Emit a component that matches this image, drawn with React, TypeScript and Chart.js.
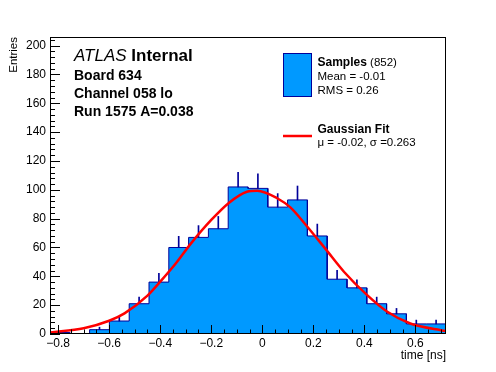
import { useEffect, useRef } from 'react';
import { Chart, registerables } from 'chart.js';

Chart.register(...registerables);

// ---- Data ----
const BIN_EDGES = [
  -0.832, -0.7544, -0.6768, -0.5992, -0.5216, -0.444, -0.3664, -0.2888, -0.2112, -0.1336,
  -0.056, 0.0216, 0.0992, 0.1768, 0.2544, 0.332, 0.4096, 0.4872, 0.5648, 0.6424, 0.72,
];
const COUNTS = [1, 0, 3, 9, 21, 36, 60, 67, 73, 102, 101, 88, 93, 68, 38, 32, 21, 14, 7, 7];

const FIT_X = [
  -0.832, -0.7, -0.6, -0.54, -0.45, -0.4, -0.34, -0.28, -0.2, -0.13, -0.06, -0.02, 0.06, 0.11,
  0.17, 0.25, 0.32, 0.41, 0.49, 0.58, 0.72,
];
const FIT_Y = [
  1.1, 4.0, 9.2, 14.3, 26.6, 36.3, 48.7, 62.7, 79.1, 91.1, 98.7, 99.4, 94.0, 87.8, 75.8, 58.5,
  43.2, 27.1, 15.4, 7.3, 2.0,
];

const X_MIN = -0.832;
const X_MAX = 0.72;
const Y_MIN = 0;
const Y_MAX = 206;

const FONT = '"Liberation Sans", Arial, Helvetica, sans-serif';
const FILL_BLUE = '#0099ff';
const LINE_BLUE = '#00009a';

const decorPlugin = {
  id: 'decor',
  afterDatasetsDraw(chart: any) {
    const { ctx, chartArea: a, scales } = chart;
    const x = scales.x;
    const y = scales.y;
    ctx.save();
    ctx.strokeStyle = '#000';
    ctx.lineWidth = 1;
    ctx.beginPath();
    // y ticks (inward)
    for (let v = 0; v <= Y_MAX; v += 4) {
      const py = Math.round(y.getPixelForValue(v)) + 0.5;
      const len = v % 20 === 0 ? 10 : 5;
      ctx.moveTo(a.left, py);
      ctx.lineTo(a.left + len, py);
    }
    // x ticks (inward)
    for (let k = -16; k <= 14; k++) {
      const v = k * 0.05;
      if (v < X_MIN || v > X_MAX) continue;
      const px = Math.round(x.getPixelForValue(v)) + 0.5;
      const len = k % 4 === 0 ? 9 : 4.5;
      ctx.moveTo(px, a.bottom);
      ctx.lineTo(px, a.bottom - len);
    }
    ctx.stroke();
    // frame
    ctx.strokeRect(Math.round(a.left) + 0.5, Math.round(a.top) + 0.5,
      Math.round(a.right - a.left) - 1, Math.round(a.bottom - a.top) - 1);
    ctx.restore();
  },
  afterDraw(chart: any) {
    const { ctx } = chart;
    ctx.save();
    ctx.fillStyle = '#000';
    ctx.textAlign = 'left';
    ctx.textBaseline = 'alphabetic';

    // ATLAS label
    ctx.font = `italic 17px ${FONT}`;
    ctx.fillText('ATLAS', 74, 61);
    const wA = ctx.measureText('ATLAS').width;
    ctx.font = `bold 17px ${FONT}`;
    ctx.fillText(' Internal', 74 + wA, 61);
    ctx.font = `bold 14px ${FONT}`;
    ctx.fillText('Board 634', 74, 79.5);
    ctx.fillText('Channel 058 lo', 74, 98);
    ctx.fillText('Run 1575 A=0.038', 74, 116);

    // legend: samples
    ctx.fillStyle = FILL_BLUE;
    ctx.fillRect(283.5, 53.5, 28, 43);
    ctx.strokeStyle = LINE_BLUE;
    ctx.lineWidth = 1;
    ctx.strokeRect(283.5, 53.5, 28, 43);
    ctx.fillStyle = '#000';
    ctx.font = `bold 12px ${FONT}`;
    ctx.fillText('Samples', 317.5, 66);
    const wS = ctx.measureText('Samples').width;
    ctx.font = `11.5px ${FONT}`;
    ctx.fillText(' (852)', 317.5 + wS, 66);
    ctx.fillText('Mean = -0.01', 317.5, 80);
    ctx.fillText('RMS = 0.26', 317.5, 93.5);

    // legend: fit
    ctx.strokeStyle = '#ff0000';
    ctx.lineWidth = 2.5;
    ctx.beginPath();
    ctx.moveTo(283, 136);
    ctx.lineTo(312, 136);
    ctx.stroke();
    ctx.font = `bold 12px ${FONT}`;
    ctx.fillText('Gaussian Fit', 317.5, 132.5);
    ctx.font = `11.5px ${FONT}`;
    ctx.fillText('\u03bc = -0.02, \u03c3 =0.263', 317.5, 145.5);

    // axis titles
    ctx.font = `12px ${FONT}`;
    ctx.textAlign = 'right';
    ctx.fillText('time [ns]', 446, 358.5);
    ctx.save();
    ctx.translate(16.5, 37);
    ctx.rotate(-Math.PI / 2);
    ctx.font = `11.5px ${FONT}`;
    ctx.textAlign = 'right';
    ctx.fillText('Entries', 0, 0);
    ctx.restore();

    ctx.restore();
  },
};

export default function App() {
  const ref = useRef<HTMLCanvasElement>(null);

  useEffect(() => {
    document.body.style.margin = '0';
    const canvas = ref.current;
    if (!canvas) return;

    const histPts: { x: number; y: number }[] = [];
    COUNTS.forEach((c, i) => {
      histPts.push({ x: BIN_EDGES[i], y: c });
      histPts.push({ x: BIN_EDGES[i + 1], y: c });
    });

    const errPts = COUNTS.map((c, i) => ({
      x: (BIN_EDGES[i] + BIN_EDGES[i + 1]) / 2,
      y: [c, c + Math.sqrt(c)],
    })).filter((p) => p.y[1] > p.y[0]);

    const fitPts = FIT_X.map((xv, i) => ({ x: xv, y: FIT_Y[i] }));

    const chart = new Chart(canvas, {
      type: 'line',
      data: {
        datasets: [
          {
            type: 'line',
            label: 'Gaussian Fit',
            data: fitPts,
            borderColor: '#ff0000',
            borderWidth: 2.5,
            pointRadius: 0,
            fill: false,
            cubicInterpolationMode: 'monotone',
            order: 0,
          } as any,
          {
            type: 'bar',
            label: 'errors',
            data: errPts as any,
            backgroundColor: LINE_BLUE,
            borderWidth: 0,
            barThickness: 1,
            grouped: false,
            order: 1,
          } as any,
          {
            type: 'line',
            label: 'Samples',
            data: histPts,
            borderColor: LINE_BLUE,
            borderWidth: 1,
            backgroundColor: FILL_BLUE,
            fill: 'origin',
            pointRadius: 0,
            tension: 0,
            order: 2,
          } as any,
        ],
      },
      options: {
        responsive: false,
        devicePixelRatio: 1,
        animation: false,
        layout: { padding: { top: 37, right: 50, left: 0, bottom: 0 } },
        plugins: { legend: { display: false }, tooltip: { enabled: false } },
        scales: {
          x: {
            type: 'linear',
            min: X_MIN,
            max: X_MAX,
            offset: false,
            grid: { display: false, drawTicks: false, offset: false },
            border: { display: false },
            ticks: {
              stepSize: 0.2,
              includeBounds: false,
              autoSkip: false,
              maxRotation: 0,
              padding: 2,
              color: '#000',
              font: { family: FONT, size: 12 },
              callback: (v: any) => {
                const n = Number(v);
                if (Math.abs(n) < 1e-9) return '0';
                return n.toFixed(1).replace('-', '\u2212');
              },
            },
            afterFit: (s: any) => {
              s.height = 38;
            },
          },
          y: {
            type: 'linear',
            min: Y_MIN,
            max: Y_MAX,
            grid: { display: false, drawTicks: false },
            border: { display: false },
            ticks: {
              stepSize: 20,
              includeBounds: false,
              autoSkip: false,
              padding: 4,
              color: '#000',
              font: { family: FONT, size: 12 },
            },
            afterFit: (s: any) => {
              s.width = 50;
            },
          },
        },
      } as any,
      plugins: [decorPlugin],
    });

    return () => chart.destroy();
  }, []);

  return (
    <canvas
      ref={ref}
      width={496}
      height={372}
      style={{ display: 'block', width: 496, height: 372 }}
    />
  );
}
